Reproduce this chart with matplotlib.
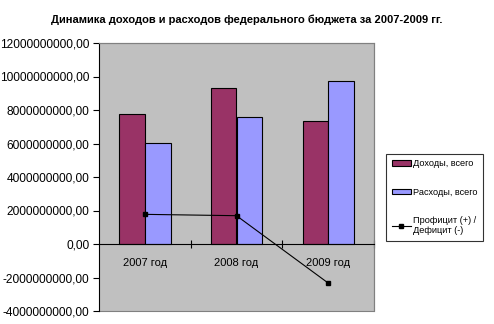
import matplotlib.pyplot as plt
from matplotlib.patches import Patch
from matplotlib.lines import Line2D
import numpy as np

plt.rcParams["font.family"] = ["Liberation Sans", "DejaVu Sans"]

YEARS = ["2007 год", "2008 год", "2009 год"]
INCOME = [7.76e9, 9.31e9, 7.32e9]
EXPENSE = [6.03e9, 7.56e9, 9.73e9]
BALANCE = [1.77e9, 1.69e9, -2.33e9]
Y_TICKS = np.arange(-4e9, 12e9 + 1, 2e9)

INCOME_COLOR = "#993366"
EXPENSE_COLOR = "#9999FF"

fig = plt.figure(figsize=(4.94, 3.24), dpi=100)
ax = fig.add_axes([99 / 494, 1 - 311 / 324, 275 / 494, 268 / 324])
ax.set_facecolor("#C0C0C0")

x = np.arange(len(YEARS))
width = 0.28
ax.bar(x - width / 2, INCOME, width, color=INCOME_COLOR, edgecolor="black", linewidth=0.8, zorder=2)
ax.bar(x + width / 2, EXPENSE, width, color=EXPENSE_COLOR, edgecolor="black", linewidth=0.8, zorder=2)
ax.plot(x, BALANCE, color="black", linewidth=0.8, marker="s", markersize=3.2, zorder=3)

ax.set_xlim(-0.5, len(YEARS) - 0.5)
ax.set_ylim(Y_TICKS[0], Y_TICKS[-1])
ax.set_yticks(Y_TICKS)
ax.set_yticklabels([f"{v:.2f}".replace(".", ",") for v in Y_TICKS], fontsize=8.6)
ax.tick_params(axis="y", direction="out", length=4, width=0.8, pad=3)

ax.spines["bottom"].set_position(("data", 0))
ax.set_xticks([0.5, 1.5, 2.5])
ax.set_xticklabels([])
ax.tick_params(axis="x", direction="inout", length=6, width=0.8)
for name in ("top", "right"):
    ax.spines[name].set_color("#808080")
ax.spines["left"].set_linewidth(0.8)
ax.spines["bottom"].set_linewidth(0.8)

for i, label in enumerate(YEARS):
    ax.annotate(label, (i, 0), xytext=(0, -10), textcoords="offset points",
                ha="center", va="top", fontsize=8)

# gray frame around the plot area
ax.plot([0, 1, 1, 0], [0, 0, 1, 1], transform=ax.transAxes, color="#808080",
        linewidth=0.8, clip_on=False, zorder=1)

fig.suptitle("Динамика доходов и расходов федерального бюджета за 2007-2009 гг.",
             fontsize=8, fontweight="bold", x=247 / 494, y=1 - 20 / 324, va="center")

handles = [
    Patch(facecolor=INCOME_COLOR, edgecolor="black", linewidth=0.8, label="Доходы, всего"),
    Patch(facecolor=EXPENSE_COLOR, edgecolor="black", linewidth=0.8, label="Расходы, всего"),
    Line2D([0], [0], color="black", linewidth=0.8, marker="s", markersize=3,
           label="Профицит (+) /\nДефицит (-)"),
]
leg = fig.legend(handles=handles, loc="upper left",
                 bbox_to_anchor=(386 / 494, 1 - 154 / 324), fontsize=6.6,
                 frameon=True, fancybox=False, edgecolor="black",
                 handlelength=2.1, handleheight=0.6, handletextpad=0.2,
                 labelspacing=2.1, borderpad=0.6, borderaxespad=0)
leg.get_frame().set_linewidth(0.8)

fig.savefig("out.png", dpi=100)
